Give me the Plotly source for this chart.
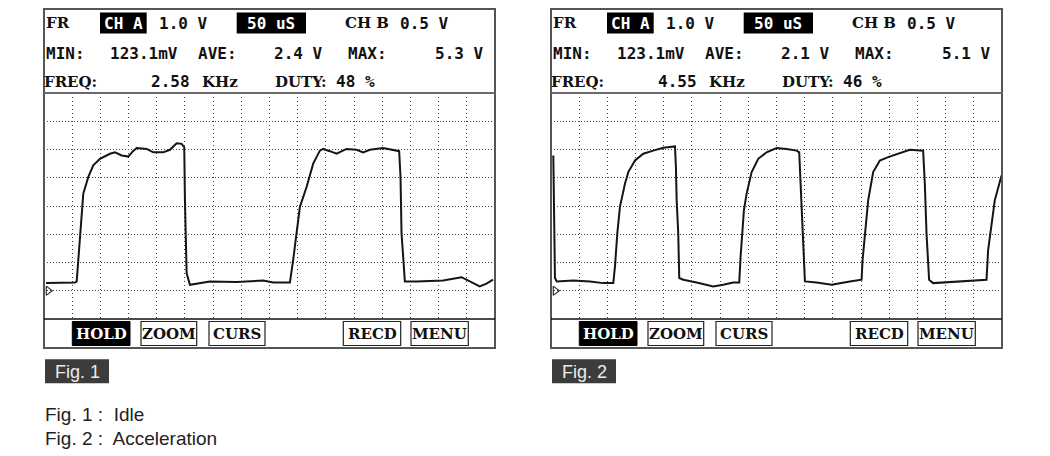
import plotly.graph_objects as go

W, H = 1050, 456
PAGE_OFFSET = 8  # the page body margin shifts the figure by 8px

# ---------------- data ----------------
# Fig. 1 (Idle): time in microseconds (50 us/div), voltage in volts (1 V/div)
fig1_time_us = [3.5, 55.0, 58.0, 63.8, 69.7, 78.5, 87.4, 99.3, 117.0, 125.9,
                137.8, 149.5, 157.8, 164.4, 182.1, 193.8, 211.5, 223.4, 235.3, 244.1,
                248.8, 250.0, 253.0, 258.9, 294.3, 341.7, 388.8, 406.6, 436.2, 442.0,
                448.0, 453.9, 465.8, 477.5, 489.4, 495.2, 507.1, 519.0, 536.7, 554.4,
                566.1, 578.0, 601.6, 619.3, 630.0, 632.4, 634.2, 638.3, 640.1, 660.8,
                708.0, 740.6, 755.3, 773.0, 784.9, 796.6]
fig1_volts = [0.27, 0.29, 0.33, 2.03, 3.44, 4.02, 4.44, 4.67, 4.85, 4.90,
              4.79, 4.75, 4.94, 5.05, 5.02, 4.90, 4.90, 4.99, 5.22, 5.20,
              5.08, 3.20, 0.62, 0.21, 0.33, 0.31, 0.36, 0.29, 0.29, 1.09,
              2.15, 2.97, 3.67, 4.50, 4.96, 5.02, 4.94, 4.85, 5.02, 4.99,
              4.90, 4.99, 5.05, 4.99, 4.94, 4.02, 2.03, 0.86, 0.33, 0.33,
              0.36, 0.48, 0.33, 0.15, 0.25, 0.39]

# Fig. 2 (Acceleration)
fig2_time_us = [4.1, 5.0, 7.0, 10.1, 39.5, 69.1, 92.7, 110.5, 113.5, 117.6,
                122.3, 131.2, 137.1, 149.0, 163.7, 181.4, 199.1, 219.9, 221.6, 222.9,
                225.7, 227.5, 234.6, 258.3, 287.8, 305.5, 323.2, 333.9, 336.3, 342.2,
                347.0, 355.9, 367.6, 382.4, 400.2, 417.9, 435.6, 440.3, 442.7, 447.4,
                450.4, 471.1, 497.7, 530.1, 550.9, 552.7, 556.7, 562.6, 571.5, 583.3,
                598.0, 618.8, 636.5, 660.1, 663.1, 666.1, 670.7, 677.8, 719.3, 748.8,
                772.5, 775.4, 781.4, 787.2, 799.1]
fig2_volts = [4.79, 2.68, 0.45, 0.33, 0.36, 0.33, 0.27, 0.27, 0.86, 2.03,
              2.97, 3.79, 4.20, 4.61, 4.85, 4.96, 5.06, 5.11, 4.38, 3.20,
              2.03, 0.45, 0.39, 0.29, 0.15, 0.21, 0.29, 0.29, 1.21, 2.85,
              3.44, 4.20, 4.67, 4.90, 5.05, 5.02, 4.96, 4.90, 3.79, 2.03,
              0.33, 0.29, 0.21, 0.33, 0.39, 1.09, 2.03, 3.20, 4.20, 4.61,
              4.73, 4.87, 4.99, 4.96, 3.79, 2.03, 0.39, 0.27, 0.33, 0.35,
              0.39, 1.44, 2.38, 3.20, 4.08]

ground_time_us = [7.6]
ground_volts = [0.0]

# Screen readouts
ch_a_scale = ["1.0 V", "1.0 V"]
timebase = ["50 uS", "50 uS"]
ch_b_scale = ["0.5 V", "0.5 V"]
min_reading = ["123.1mV", "123.1mV"]
ave_reading = ["2.4 V", "2.1 V"]
max_reading = ["5.3 V", "5.1 V"]
freq_reading = ["2.58", "4.55"]
duty_reading = ["48 %", "46 %"]
buttons = ["HOLD", "ZOOM", "CURS", "RECD", "MENU"]
fig_labels = ["Fig. 1", "Fig. 2"]
captions = ["Fig. 1 :  Idle", "Fig. 2 :  Acceleration"]

# ---------------- layout helpers ----------------
panel_left = [44, 551]
panel_w = 451
box_top, sep_y, plot_bot, box_bot = 9, 93, 319, 348


def px(x):
    return (x - PAGE_OFFSET) / W


def py(y):
    return 1 - (y - PAGE_OFFSET) / H


MONO = "DejaVu Sans Mono"
SERIF = "DejaVu Serif"

fig = go.Figure()
shapes = []
annotations = []


def text(x, y, s, family=MONO, size=16, color="#111111", anchor="center", bold=True):
    annotations.append(dict(
        x=px(x), y=py(y), xref="paper", yref="paper", text=f"<b>{s}</b>" if bold else s,
        showarrow=False, xanchor=anchor, yanchor="middle",
        font=dict(family=family, size=size, color=color)))


def rect(x0, y0, x1, y1, fill="rgba(0,0,0,0)", line="#111111", lw=1.0):
    shapes.append(dict(type="rect", xref="paper", yref="paper",
                       x0=px(x0), x1=px(x1), y0=py(y1), y1=py(y0),
                       fillcolor=fill, line=dict(color=line, width=lw), layer="above"))


def hline(x0, x1, y, color, lw):
    shapes.append(dict(type="line", xref="paper", yref="paper",
                       x0=px(x0), x1=px(x1), y0=py(y), y1=py(y),
                       line=dict(color=color, width=lw), layer="above"))


series = [(fig1_time_us, fig1_volts), (fig2_time_us, fig2_volts)]
btn_rel = [(28.3, 86), (97, 152.7), (165, 221), (299.3, 356.7), (367, 424.3)]

for i, L in enumerate(panel_left):
    xa = "x" if i == 0 else "x2"
    ya = "y" if i == 0 else "y2"
    t, v = series[i]
    fig.add_trace(go.Scatter(x=t, y=v, mode="lines", xaxis=xa, yaxis=ya,
                             line=dict(color="#151515", width=2), showlegend=False,
                             hoverinfo="skip"))
    fig.add_trace(go.Scatter(x=ground_time_us, y=ground_volts, mode="markers", xaxis=xa, yaxis=ya,
                             marker=dict(symbol="triangle-right-open", size=8,
                                         color="#333333", line=dict(width=1.2)),
                             cliponaxis=False, showlegend=False, hoverinfo="skip"))

    axis_common = dict(showticklabels=False, ticks="", zeroline=False, showline=False,
                       showgrid=True, gridcolor="#444444", gridwidth=1, fixedrange=True)
    xkey = "xaxis" if i == 0 else "xaxis2"
    ykey = "yaxis" if i == 0 else "yaxis2"
    fig.update_layout(**{
        xkey: dict(domain=[px(L), px(L + panel_w)], range=[0, 800], dtick=50, tick0=0,
                   anchor=ya, griddash="1px,3px", **axis_common),
        ykey: dict(domain=[py(plot_bot), py(sep_y)], range=[-1, 7], dtick=1, tick0=-1,
                   anchor=xa, griddash="1px,2px", **axis_common),
    })

    # frame
    rect(L, box_top, L + panel_w, box_bot, line="#555555", lw=2)
    hline(L, L + panel_w, sep_y, "#6a6a6a", 2)
    hline(L, L + panel_w, plot_bot, "#111111", 1.5)

    # header row 1
    r1, r2, r3 = 23, 53, 82
    text(L + 13.5, r1, "FR", family=SERIF, size=15)
    rect(L + 56, 12.5, L + 102.7, 33.5, fill="#000000", line="#000000", lw=0)
    text(L + 79.3, r1, "CH A", color="#ffffff")
    text(L + 139.3, r1, ch_a_scale[i])
    rect(L + 192.7, 12.5, L + 262, 33.5, fill="#000000", line="#000000", lw=0)
    text(L + 227.3, r1, timebase[i], color="#ffffff")
    text(L + 322.5, r1, "CH B", family=SERIF, size=15)
    text(L + 380, r1, ch_b_scale[i])
    # row 2
    text(L + 21.8, r2, "MIN:")
    text(L + 100.2, r2, min_reading[i])
    text(L + 173.5, r2, "AVE:")
    text(L + 254.3, r2, ave_reading[i])
    text(L + 323.5, r2, "MAX:")
    text(L + 415, r2, max_reading[i])
    # row 3
    text(L + 26.8, r3, "FREQ:", family=SERIF, size=15)
    text(L + 126.8, r3, freq_reading[i])
    text(L + 175.8, r3, "KHz", family=SERIF, size=15)
    text(L + 256.8, r3, "DUTY:", family=SERIF, size=15)
    text(L + 311.8, r3, duty_reading[i])

    # buttons
    for b, (b0, b1) in zip(buttons, btn_rel):
        if b == "HOLD":
            rect(L + b0, 321.5, L + b1, 345.5, fill="#000000", line="#000000", lw=1)
            text(L + (b0 + b1) / 2, 334, b, family=SERIF, size=15, color="#ffffff")
        else:
            rect(L + b0, 321.5, L + b1, 345.5, fill="#ffffff", line="#222222", lw=1.2)
            text(L + (b0 + b1) / 2, 334, b, family=SERIF, size=15)

    # figure label
    rect(L + 1, 359.3, L + 65, 383.3, fill="#3c3c3c", line="#3c3c3c", lw=0)
    text(L + 33, 371.5, fig_labels[i], family="Liberation Sans", size=18,
         color="#ececec", bold=False)

# captions
text(43, 414, captions[0], family="Liberation Sans", size=19, color="#222222",
     anchor="left", bold=False)
text(43, 438, captions[1], family="Liberation Sans", size=19, color="#222222",
     anchor="left", bold=False)

fig.update_layout(width=W, height=H, margin=dict(l=0, r=0, t=0, b=0),
                  paper_bgcolor="#ffffff", plot_bgcolor="#ffffff",
                  shapes=shapes, annotations=annotations, showlegend=False)

fig.write_html("out.html")
